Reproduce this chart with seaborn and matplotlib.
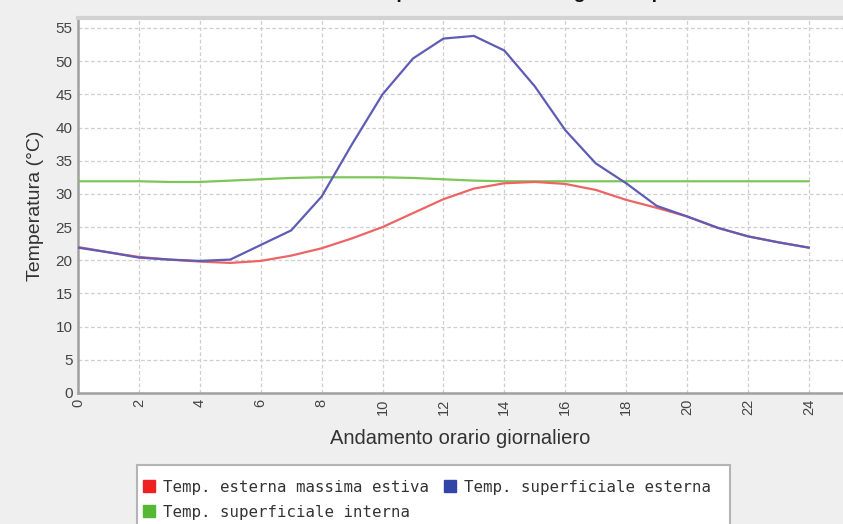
import numpy as np
import pandas as pd
import matplotlib
matplotlib.use("Agg")
import matplotlib.pyplot as plt
from matplotlib.lines import Line2D
from matplotlib.patches import Rectangle
import seaborn as sns

# Hourly values over one summer day (hours 0..24)
hours = list(range(25))
temp_esterna = [22.0, 21.2, 20.5, 20.1, 19.8, 19.6, 19.9, 20.7, 21.8, 23.3, 25.0,
                27.1, 29.2, 30.8, 31.6, 31.8, 31.5, 30.6, 29.1, 27.9, 26.6,
                24.9, 23.6, 22.7, 21.9]
temp_sup_esterna = [21.9, 21.2, 20.4, 20.1, 19.9, 20.1, 22.3, 24.5, 29.6, 37.5, 45.0,
                    50.4, 53.4, 53.8, 51.6, 46.2, 39.6, 34.6, 31.6, 28.2, 26.6,
                    24.9, 23.6, 22.7, 21.9]
temp_sup_interna = [31.9, 31.9, 31.9, 31.8, 31.8, 32.0, 32.2, 32.4, 32.5, 32.5, 32.5,
                    32.4, 32.2, 32.0, 31.9, 31.9, 31.9, 31.9, 31.9, 31.9, 31.9,
                    31.9, 31.9, 31.9, 31.9]

series_names = ["Temp. esterna massima estiva",
                "Temp. superficiale esterna",
                "Temp. superficiale interna"]
line_colors = ["#ee6464", "#5e5cb4", "#7cc65a"]
legend_colors = ["#ee2020", "#3344a8", "#55b835"]

x_ticks = list(range(0, 25, 2))
y_ticks = list(range(0, 56, 5))

df = pd.concat([
    pd.DataFrame({"ora": hours, "temp": vals, "serie": name})
    for name, vals in zip(series_names, [temp_esterna, temp_sup_esterna, temp_sup_interna])
])

sns.set_style("white")
plt.rcParams["font.family"] = ["Liberation Sans", "DejaVu Sans"]

W, H = 843, 524
fig = plt.figure(figsize=(W / 100, H / 100), dpi=100, facecolor="#efefef")
ax = fig.add_axes([78 / W, 131 / H, 765 / W, 375 / H])
ax.set_facecolor("white")

# draw green first, then red, then blue on top
order = [2, 0, 1]
for i in order:
    sub = df[df["serie"] == series_names[i]]
    sns.lineplot(data=sub, x="ora", y="temp", color=line_colors[i], lw=1.6,
                 ax=ax, legend=False, zorder=3 + order.index(i))

ax.set_xlim(0, 25.12)
ax.set_ylim(0, 56.5)
ax.set_xticks(x_ticks)
ax.set_yticks(y_ticks)
ax.set_xticklabels([str(t) for t in x_ticks], rotation=90, fontsize=10.5, color="#444444")
ax.set_yticklabels([str(t) for t in y_ticks], fontsize=11, color="#444444")
ax.tick_params(axis="both", length=2, width=1, color="#999999", pad=2, direction="out")

ax.grid(True, color="#cfcfcf", lw=0.9, ls=(0, (3, 2)))
ax.set_axisbelow(True)

for side in ["left", "bottom"]:
    ax.spines[side].set_visible(True)
    ax.spines[side].set_color("#a0a0a0")
    ax.spines[side].set_linewidth(1.8)
ax.spines["top"].set_visible(True)
ax.spines["top"].set_color("#d2d2d2")
ax.spines["top"].set_linewidth(3)
ax.spines["right"].set_visible(False)

ax.set_xlabel("Andamento orario giornaliero", fontsize=14.5, color="#333333", labelpad=10)
ax.set_ylabel("Temperatura (°C)", fontsize=14, color="#333333", labelpad=8)

# title sits mostly above the top edge of the image
fig.text(0.548, 1 + 2.0 / H, "Andamento temperature estive nel giorno tipo",
         ha="center", va="baseline", fontsize=14, fontweight="bold", color="#111111")

# legend box (runs past the bottom edge)
fig.patches.append(Rectangle((137 / W, -10 / H), (730 - 137) / W, (10 + 524 - 465) / H,
                             transform=fig.transFigure, facecolor="white",
                             edgecolor="#b4b4b4", lw=1.5, zorder=1))

handles = [Line2D([0], [0], marker="s", ls="none", markersize=9,
                  markerfacecolor=legend_colors[i], markeredgecolor=legend_colors[i])
           for i in [0, 2, 1]]
labels = [series_names[i] for i in [0, 2, 1]]
leg = fig.legend(handles, labels, loc="upper left", bbox_to_anchor=(138 / W, 1 - 475 / H),
                 borderaxespad=0, ncol=2, frameon=False,
                 handlelength=0.8, handletextpad=0.5, columnspacing=0.9,
                 borderpad=0.3, labelspacing=0.65,
                 prop={"family": "DejaVu Sans Mono", "size": 11.3})
leg.set_zorder(2)
for t in leg.get_texts():
    t.set_color("#333333")

fig.savefig("out.png", dpi=100, facecolor=fig.get_facecolor())
